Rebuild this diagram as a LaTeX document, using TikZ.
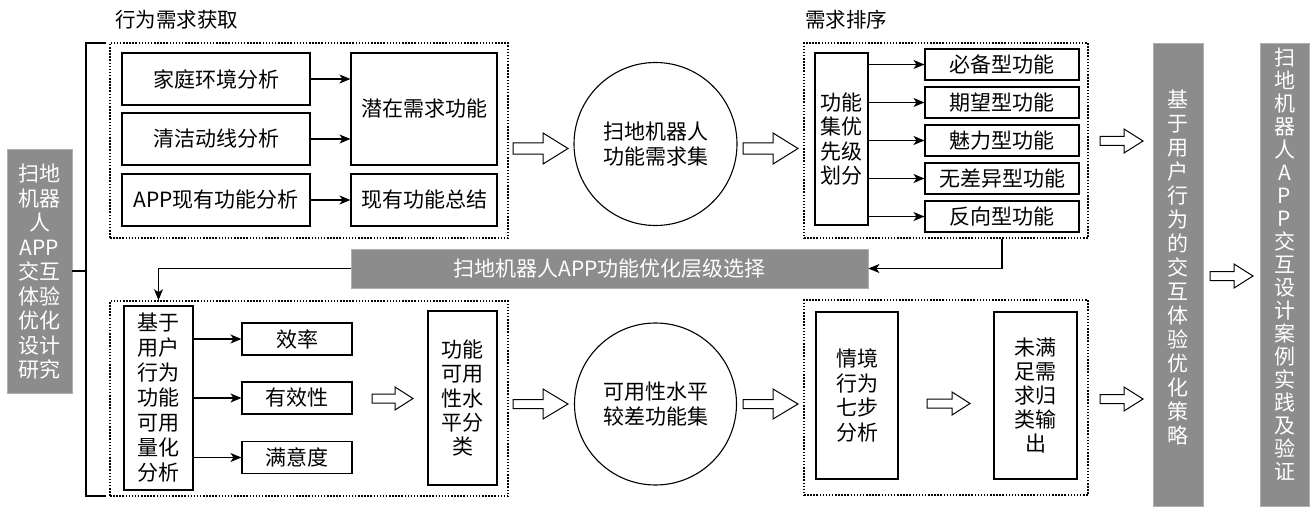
\documentclass[tikz,border=0pt]{standalone}
\usepackage{fontspec}
\setmainfont{Noto Sans CJK SC}
\usetikzlibrary{arrows.meta,calc}
\definecolor{gfill}{RGB}{140,140,140}
\definecolor{gline}{RGB}{175,175,175}
\tikzset{
 box/.style={draw, line width=1.1pt, inner sep=0pt, align=center, font=\fontsize{21}{24.5}\selectfont},
 dotbox/.style={draw, line width=1.5pt, dash pattern=on 1.5pt off 1.6pt, inner sep=0pt},
 graybox/.style={fill=gfill, draw=gline, line width=0.8pt, text=white, inner sep=0pt, align=center, font=\fontsize{21}{24.5}\selectfont},
 graytext/.style={text=white, inner sep=0pt, align=center},
 arr/.style={line width=1.1pt, -{Stealth[length=11pt,width=9pt,inset=3pt]}},
 ttl/.style={font=\fontsize{20.5}{22}\selectfont, anchor=west, inner sep=0pt},
 circ/.style={draw, circle, line width=1.1pt, inner sep=0pt, minimum size=163pt, align=center, font=\fontsize{21}{25}\selectfont},
 harrow/.style={draw, fill=white, line width=1pt, line join=miter},
}
% hollow block arrow: x1, x2, y, shaft half height, head half height, head length
\newcommand\blockarr[6]{%
 \draw[harrow] (#1,{#3-#4}) -- ({#2-#6},{#3-#4}) -- ({#2-#6},{#3-#5}) -- (#2,#3)
   -- ({#2-#6},{#3+#5}) -- ({#2-#6},{#3+#4}) -- (#1,{#3+#4}) -- cycle;}
\begin{document}
\begin{tikzpicture}[x=1pt,y=-1pt]
\useasboundingbox (0,0) rectangle (1314,508);

% titles
\node[ttl] (t1) at (115,20) {行为需求获取};
\node[ttl] (t2) at (805,20) {需求排序};

% left gray box and bracket
\node[graybox, minimum width=65pt, minimum height=244pt] (L) at (39.5,271) {};
\node[graytext, font=\fontsize{21}{24.5}\selectfont] (Lt) at (39.5,272) {扫地\\机器\\人\\APP\\交互\\体验\\优化\\设计\\研究};
\coordinate (brk) at (86,271);
\draw[line width=1.1pt] (106,43) -- (86,43) -- (86,496) -- (106,496);
\draw[line width=1.1pt] (L.east) -- (brk);

% top-left dotted group
\node[dotbox, minimum width=398pt, minimum height=195pt] (D1) at (309,140.5) {};
\node[box, minimum width=188pt, minimum height=52pt] (home) at (216,79) {家庭环境分析};
\node[box, minimum width=188pt, minimum height=52pt] (clean) at (216,139) {清洁动线分析};
\node[box, minimum width=188pt, minimum height=52pt] (app) at (216,200) {APP现有功能分析};
\node[box, minimum width=146pt, minimum height=112pt] (latent) at (424,109) {潜在需求功能};
\node[box, minimum width=146pt, minimum height=52pt] (exist) at (424,200) {现有功能总结};
\draw[arr] (home.east) -- (home.east -| latent.west);
\draw[arr] (clean.east) -- (clean.east -| latent.west);
\draw[arr] (app.east) -- (exist.west);

\blockarr{513}{568}{148.5}{5.5}{15.5}{25}
\node[circ] (C1) at (655.5,144) {扫地机器人\\功能需求集};
\blockarr{743}{798}{148.5}{5.5}{15.5}{25}

% top-right dotted group
\node[dotbox, minimum width=284pt, minimum height=195pt] (D2) at (946,140.5) {};
\node[box, minimum width=53pt, minimum height=172pt, font=\fontsize{21}{24.5}\selectfont] (prio) at (841.5,139) {功能\\集优\\先级\\划分};
\node[box, minimum width=154pt, minimum height=31pt] (o1) at (1002,64.5) {必备型功能};
\node[box, minimum width=154pt, minimum height=31pt] (o2) at (1002,102.5) {期望型功能};
\node[box, minimum width=154pt, minimum height=31pt] (o3) at (1002,140.5) {魅力型功能};
\node[box, minimum width=154pt, minimum height=31pt] (o4) at (1002,178.5) {无差异型功能};
\node[box, minimum width=154pt, minimum height=31pt] (o5) at (1002,216.5) {反向型功能};
\foreach \o in {o1,o2,o3,o4,o5}{\draw[arr] (prio.east |- \o.west) -- (\o.west);}

% middle gray bar
\node[graybox, minimum width=517pt, minimum height=39pt] (bar) at (609.5,268.5) {扫地机器人APP功能优化层级选择};
\draw[arr] (D2.south -| o5.center) |- (bar.east);

% bottom-left dotted group
\node[dotbox, minimum width=398pt, minimum height=195pt] (D3) at (309,398.5) {};
\node[box, minimum width=69pt, minimum height=184pt, font=\fontsize{21}{25}\selectfont] (quant) at (158.5,398) {基于\\用户\\行为\\功能\\可用\\量化\\分析};
\draw[arr] (bar.west) -| (D3.north -| quant.center);
\node[box, minimum width=110pt, minimum height=32pt] (m1) at (297,339) {效率};
\node[box, minimum width=110pt, minimum height=32pt] (m2) at (297,398) {有效性};
\node[box, minimum width=110pt, minimum height=32pt] (m3) at (297,457.5) {满意度};
\foreach \m in {m1,m2,m3}{\draw[arr] (quant.east |- \m.west) -- (\m.west);}
\blockarr{372}{413}{398.5}{4.5}{11.5}{18}
\node[box, minimum width=69pt, minimum height=174pt, font=\fontsize{21}{24.3}\selectfont] (usab) at (462.5,398) {功能\\可用\\性水\\平分\\类};

\blockarr{513}{568}{404}{4.5}{15}{25}
\node[circ, minimum size=162pt] (C2) at (655.5,404) {可用性水平\\较差功能集};
\blockarr{743}{798}{404}{4.5}{15}{25}

% bottom-right dotted group
\node[dotbox, minimum width=284pt, minimum height=195pt] (D4) at (946,397.5) {};
\node[box, minimum width=82pt, minimum height=167pt, font=\fontsize{21}{24.5}\selectfont] (sit) at (857,395.5) {情境\\行为\\七步\\分析};
\blockarr{927}{970}{403.5}{4.5}{11.5}{18}
\node[box, minimum width=83pt, minimum height=167pt, font=\fontsize{21}{24}\selectfont] (unmet) at (1035.5,395.5) {未满\\足需\\求归\\类输\\出};

% right side
\blockarr{1100}{1143}{141}{4.5}{12}{19}
\blockarr{1100}{1143}{399}{4.5}{12}{19}
\node[graybox, minimum width=50pt, minimum height=463pt] (G1) at (1178,274.5) {};
\node[graytext, font=\fontsize{21}{24}\selectfont] (G1t) at (1178,267) {基\\于\\用\\户\\行\\为\\的\\交\\互\\体\\验\\优\\化\\策\\略};
\blockarr{1210}{1253}{276}{4.5}{12}{19}
\node[graybox, minimum width=49pt, minimum height=463pt] (G2) at (1284.5,274.5) {};
\node[graytext, font=\fontsize{21}{23}\selectfont] (G2t) at (1284.5,264) {扫\\地\\机\\器\\人\\A\\P\\P\\交\\互\\设\\计\\案\\例\\实\\践\\及\\验\\证};
\end{tikzpicture}
\end{document}
